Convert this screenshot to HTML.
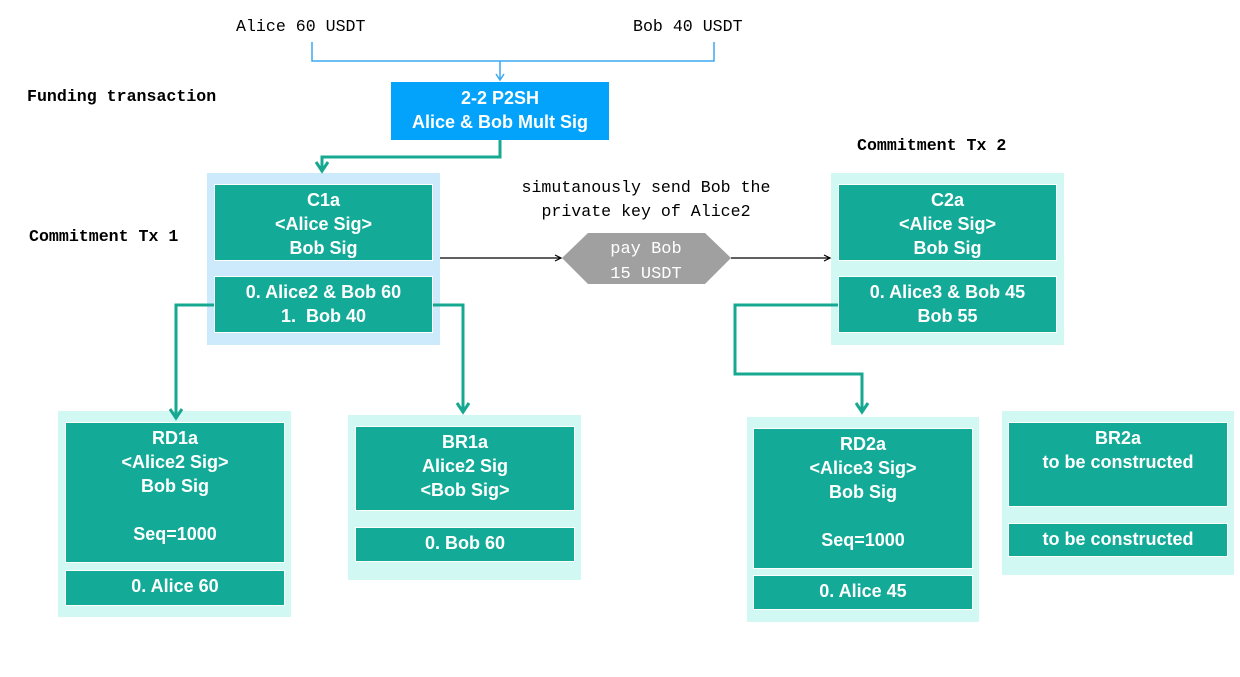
<!DOCTYPE html>
<html><head><meta charset="utf-8"><style>
body{margin:0;width:1240px;height:677px;background:#fff;position:relative;overflow:hidden;font-family:"Liberation Sans",Arial,sans-serif}
.a{position:absolute;box-sizing:border-box}
.bg{background:#d2f8f4}
.bb{background:#cdeafc}
.t{background:#13ab98;border:1px solid #fff;color:#fff;font-weight:bold;font-size:18px;line-height:24px;text-align:center;padding-top:3px}
.m{font-family:"Liberation Mono",monospace;font-size:16.6px;color:#000;white-space:nowrap}
</style></head><body>
<div class="a m" style="left:236px;top:17px;">Alice 60 USDT</div>
<div class="a m" style="left:633px;top:17px;">Bob 40 USDT</div>
<div class="a m" style="left:27px;top:87px;font-weight:bold">Funding transaction</div>
<div class="a m" style="left:29px;top:227px;font-weight:bold">Commitment Tx 1</div>
<div class="a m" style="left:857px;top:136px;font-weight:bold">Commitment Tx 2</div>
<div class="a m" style="left:506px;top:176px;line-height:24px;text-align:center;width:280px">simutanously send Bob the<br>private key of Alice2</div>

<div class="a" style="left:391px;top:82px;width:218px;height:58px;background:#03a3fb;color:#fff;font-weight:bold;font-size:18px;line-height:24px;text-align:center;padding-top:4px">2-2 P2SH<br>Alice &amp; Bob Mult Sig</div>

<div class="a bb" style="left:207px;top:173px;width:233px;height:172px"></div>
<div class="a t" style="left:214px;top:184px;width:219px;height:77px">C1a<br>&lt;Alice Sig&gt;<br>Bob Sig</div>
<div class="a t" style="left:214px;top:276px;width:219px;height:57px">0. Alice2 &amp; Bob 60<br>1.&nbsp; Bob 40</div>

<div class="a bg" style="left:831px;top:173px;width:233px;height:172px"></div>
<div class="a t" style="left:838px;top:184px;width:219px;height:77px">C2a<br>&lt;Alice Sig&gt;<br>Bob Sig</div>
<div class="a t" style="left:838px;top:276px;width:219px;height:57px">0. Alice3 &amp; Bob 45<br>Bob 55</div>

<div class="a bg" style="left:58px;top:411px;width:233px;height:206px"></div>
<div class="a t" style="left:65px;top:422px;width:220px;height:141px">RD1a<br>&lt;Alice2 Sig&gt;<br>Bob Sig<br><br>Seq=1000</div>
<div class="a t" style="left:65px;top:570px;width:220px;height:36px">0. Alice 60</div>

<div class="a bg" style="left:348px;top:415px;width:233px;height:165px"></div>
<div class="a t" style="left:355px;top:426px;width:220px;height:85px">BR1a<br>Alice2 Sig<br>&lt;Bob Sig&gt;</div>
<div class="a t" style="left:355px;top:527px;width:220px;height:35px">0. Bob 60</div>

<div class="a bg" style="left:747px;top:417px;width:232px;height:205px"></div>
<div class="a t" style="left:753px;top:428px;width:220px;height:141px">RD2a<br>&lt;Alice3 Sig&gt;<br>Bob Sig<br><br>Seq=1000</div>
<div class="a t" style="left:753px;top:575px;width:220px;height:35px">0. Alice 45</div>

<div class="a bg" style="left:1002px;top:411px;width:232px;height:164px"></div>
<div class="a t" style="left:1008px;top:422px;width:220px;height:85px">BR2a<br>to be constructed</div>
<div class="a t" style="left:1008px;top:523px;width:220px;height:34px">to be constructed</div>

<svg class="a" style="left:0;top:0" width="1240" height="677">
<g fill="none" stroke="#3ba8f0" stroke-width="1.5">
<path d="M312 42V61H714V42M500 61V80"/>
<path d="M496 74L500 80L504 74"/>
</g>
<g fill="none" stroke="#16a890" stroke-width="3">
<path d="M500 140V157H322V171"/>
<path d="M316 162L322 171L328 162"/>
<path d="M214 305H176V418"/>
<path d="M170 409L176 418L182 409"/>
<path d="M433 305H463V412"/>
<path d="M457 403L463 412L469 403"/>
<path d="M838 305H735V374H862V412"/>
<path d="M856 403L862 412L868 403"/>
</g>
<g stroke="#000" stroke-width="1.2" fill="none">
<path d="M440 258H561M731 258H830"/>
<path d="M555 255L561 258L555 261M824 255L830 258L824 261"/>
</g>
<polygon points="562,258 588,233 705,233 731,258 705,284 588,284" fill="#a0a0a0"/>
<text x="646" y="253" text-anchor="middle" font-family="Liberation Mono,monospace" font-size="17" fill="#fff">pay Bob</text>
<text x="646" y="278" text-anchor="middle" font-family="Liberation Mono,monospace" font-size="17" fill="#fff">15 USDT</text>
</svg>
</body></html>
